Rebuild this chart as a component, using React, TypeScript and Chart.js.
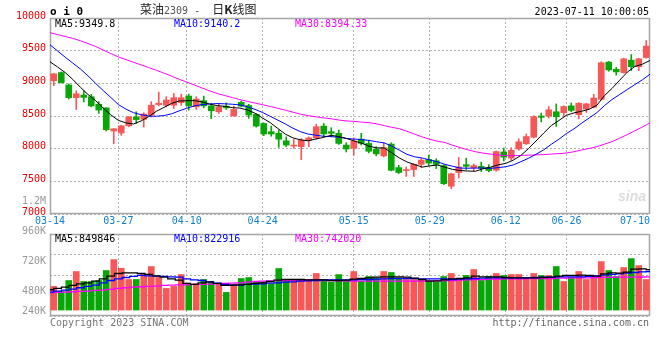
import React, { useEffect, useRef } from 'react';
import { Chart, registerables } from 'chart.js';

Chart.register(...registerables);

// ---------------- data ----------------
const dates = [
  '03-14','03-15','03-16','03-17','03-20','03-21','03-22','03-23','03-24','03-27','03-28','03-29','03-30','03-31',
  '04-03','04-04','04-06','04-07','04-10','04-11','04-12','04-13','04-14','04-17','04-18','04-19','04-20','04-21','04-24','04-25','04-26','04-27','04-28',
  '05-04','05-05','05-08','05-09','05-10','05-11','05-12','05-15','05-16','05-17','05-18','05-19','05-22','05-23','05-24','05-25','05-26','05-29','05-30','05-31',
  '06-01','06-02','06-05','06-06','06-07','06-08','06-09','06-12','06-13','06-14','06-15','06-16','06-19','06-20','06-21','06-26','06-27','06-28','06-29','06-30',
  '07-03','07-04','07-05','07-06','07-07','07-10','07-11',
];

const opens = [
  9040, 9165, 8975, 8780, 8820, 8795, 8680, 8625, 8270, 8240,
  8350, 8485, 8450, 8515, 8675, 8665, 8665, 8705, 8805, 8640,
  8735, 8655, 8565, 8650, 8500, 8710, 8660, 8525, 8385, 8260,
  8235, 8120, 8040, 8030, 8130, 8165, 8345, 8260, 8235, 8055,
  8005, 8145, 8080, 7990, 7890, 8070, 7710, 7665, 7680, 7760,
  7835, 7815, 7740, 7425, 7635, 7755, 7705, 7730, 7710, 7670,
  7950, 7855, 7995, 8075, 8175, 8500, 8500, 8565, 8550, 8655,
  8520, 8605, 8635, 8755, 9325, 9215, 9165, 9355, 9255, 9395,
];
const highs = [
  9155, 9175, 8990, 8885, 8885, 8830, 8720, 8625, 8305, 8360,
  8490, 8565, 8550, 8720, 8865, 8795, 8845, 8835, 8835, 8795,
  8805, 8690, 8690, 8700, 8650, 8730, 8680, 8535, 8395, 8345,
  8285, 8180, 8140, 8155, 8180, 8375, 8385, 8320, 8285, 8090,
  8165, 8235, 8130, 8030, 8090, 8090, 7745, 7720, 7770, 7850,
  7900, 7845, 7755, 7625, 7865, 7855, 7765, 7795, 7755, 7965,
  8010, 8015, 8150, 8225, 8505, 8545, 8645, 8685, 8655, 8700,
  8705, 8695, 8830, 9330, 9335, 9245, 9385, 9440, 9385, 9655,
];
const lows = [
  8965, 9005, 8760, 8600, 8715, 8640, 8540, 8270, 8075, 8205,
  8335, 8385, 8330, 8485, 8655, 8640, 8615, 8665, 8590, 8600,
  8625, 8460, 8540, 8600, 8500, 8640, 8465, 8330, 8200, 8190,
  8020, 8030, 8005, 7830, 8030, 8145, 8180, 8180, 8065, 7950,
  7900, 8055, 7935, 7890, 7875, 7660, 7620, 7575, 7575, 7710,
  7745, 7695, 7450, 7390, 7550, 7680, 7655, 7650, 7645, 7655,
  7810, 7825, 7975, 8065, 8165, 8410, 8470, 8340, 8500, 8565,
  8455, 8555, 8625, 8745, 9185, 9125, 9155, 9195, 9195, 9385,
];
const closes = [
  9145, 9010, 8780, 8840, 8785, 8655, 8590, 8290, 8305, 8350,
  8485, 8445, 8530, 8665, 8695, 8745, 8780, 8780, 8655, 8760,
  8655, 8580, 8640, 8625, 8600, 8650, 8515, 8345, 8225, 8225,
  8145, 8055, 8055, 8130, 8165, 8335, 8225, 8235, 8080, 7995,
  8115, 8080, 7960, 7920, 8015, 7670, 7635, 7680, 7760, 7825,
  7780, 7760, 7465, 7615, 7720, 7730, 7740, 7700, 7665, 7955,
  7870, 7975, 8105, 8185, 8490, 8480, 8595, 8490, 8645, 8585,
  8695, 8685, 8775, 9315, 9205, 9175, 9375, 9255, 9375, 9570,
];

const ma5 = [
  9330, 9250, 9165, 9060, 8940, 8830, 8735, 8622, 8518, 8433,
  8395, 8378, 8424, 8492, 8572, 8631, 8692, 8730, 8734, 8735,
  8718, 8683, 8658, 8649, 8628, 8621, 8593, 8542, 8468, 8398,
  8309, 8222, 8164, 8135, 8120, 8148, 8172, 8205, 8185, 8158,
  8120, 8085, 8038, 8012, 8011, 7937, 7857, 7797, 7757, 7718,
  7736, 7750, 7716, 7683, 7666, 7658, 7654, 7692, 7717, 7752,
  7774, 7825, 7896, 8001, 8118, 8238, 8354, 8431, 8511, 8548,
  8573, 8604, 8663, 8811, 8922, 9047, 9170, 9258, 9293, 9349.8,
];
const ma10 = [
  9590, 9495, 9400, 9310, 9220, 9115, 9000, 8890, 8785, 8675,
  8606, 8550, 8520, 8500, 8496, 8506, 8533, 8578, 8618, 8655,
  8673, 8684, 8690, 8687, 8680, 8670, 8640, 8601, 8553, 8495,
  8437, 8377, 8313, 8259, 8223, 8206, 8190, 8184, 8176, 8157,
  8147, 8140, 8126, 8106, 8088, 8040, 7977, 7913, 7876, 7857,
  7827, 7799, 7760, 7731, 7703, 7701, 7703, 7704, 7699, 7710,
  7723, 7751, 7801, 7853, 7915, 7982, 8067, 8144, 8232, 8304,
  8390, 8471, 8551, 8659, 8753, 8828, 8905, 8980, 9054, 9140.2,
];
const ma30 = [
  9775, 9746, 9717, 9688, 9652, 9610, 9564, 9510, 9456, 9404,
  9364, 9322, 9282, 9242, 9200, 9156, 9110, 9063, 9019, 8975,
  8930, 8886, 8844, 8814, 8782, 8750, 8724, 8698, 8672, 8646,
  8618, 8589, 8558, 8528, 8505, 8488, 8471, 8458, 8439, 8424,
  8418, 8407, 8398, 8381, 8353, 8327, 8306, 8266, 8223, 8180,
  8144, 8114, 8095, 8053, 8016, 7983, 7954, 7932, 7917, 7903,
  7894, 7892, 7897, 7900, 7905, 7909, 7917, 7925, 7932, 7954,
  7980, 8003, 8030, 8068, 8108, 8160, 8215, 8272, 8332, 8394.33,
];

const volumes = [
  597000, 526000, 687000, 823000, 672000, 672000, 687000, 838000, 1003000, 872000,
  702000, 702000, 777000, 898000, 737000, 567000, 597000, 777000, 627000, 637000,
  702000, 662000, 637000, 507000, 627000, 717000, 732000, 667000, 667000, 637000,
  868000, 702000, 702000, 702000, 702000, 793000, 702000, 662000, 777000, 677000,
  823000, 677000, 747000, 728000, 823000, 808000, 728000, 702000, 702000, 702000,
  687000, 668000, 747000, 793000, 702000, 763000, 853000, 687000, 747000, 793000,
  763000, 778000, 778000, 717000, 793000, 763000, 763000, 898000, 672000, 728000,
  823000, 702000, 737000, 973000, 838000, 747000, 883000, 1018000, 913000, 702000,
];
const volMa5 = [
  547000, 567000, 587000, 612000, 637000, 652000, 677000, 712000, 753000, 793000,
  803000, 803000, 793000, 778000, 758000, 737000, 712000, 692000, 642000, 627000,
  652000, 667000, 642000, 612000, 617000, 622000, 627000, 642000, 652000, 672000,
  692000, 702000, 702000, 702000, 697000, 697000, 697000, 687000, 687000, 692000,
  707000, 717000, 727000, 737000, 742000, 742000, 742000, 737000, 722000, 702000,
  677000, 682000, 697000, 712000, 717000, 727000, 753000, 742000, 742000, 742000,
  732000, 727000, 727000, 727000, 727000, 732000, 737000, 753000, 763000, 763000,
  768000, 763000, 753000, 788000, 803000, 798000, 813000, 858000, 863000, 849846,
];
const volMa10 = [
  512000, 527000, 542000, 557000, 577000, 597000, 617000, 652000, 687000, 712000,
  732000, 748000, 763000, 758000, 753000, 748000, 742000, 737000, 712000, 697000,
  687000, 667000, 647000, 627000, 617000, 617000, 627000, 632000, 637000, 647000,
  652000, 662000, 667000, 677000, 682000, 687000, 692000, 697000, 697000, 697000,
  697000, 702000, 702000, 707000, 712000, 717000, 717000, 717000, 717000, 712000,
  712000, 712000, 712000, 702000, 707000, 712000, 717000, 722000, 727000, 727000,
  727000, 727000, 727000, 727000, 732000, 737000, 737000, 742000, 742000, 742000,
  742000, 748000, 758000, 768000, 778000, 788000, 798000, 808000, 818000, 822916,
];
const volMa30 = [
  502000, 507000, 512000, 517000, 522000, 527000, 537000, 542000, 552000, 567000,
  577000, 587000, 592000, 597000, 602000, 612000, 617000, 622000, 622000, 627000,
  627000, 632000, 637000, 642000, 647000, 652000, 662000, 672000, 677000, 682000,
  687000, 687000, 692000, 692000, 697000, 692000, 687000, 687000, 682000, 682000,
  677000, 677000, 677000, 677000, 677000, 677000, 677000, 677000, 677000, 677000,
  682000, 682000, 687000, 687000, 692000, 697000, 702000, 702000, 707000, 707000,
  712000, 712000, 712000, 717000, 717000, 717000, 717000, 722000, 722000, 727000,
  727000, 727000, 732000, 734000, 736000, 737000, 738000, 739000, 740000, 742020,
];

const xTickLabels = ['03-14', '03-27', '04-10', '04-24', '05-15', '05-29', '06-12', '06-26', '07-10'];
const volTickLabels = ['1.2M', '960K', '720K', '480K', '240K'];

const PRICE_MIN = 7000;
const PRICE_MAX = 10000;
const PRICE_STEP = 500;
const VOL_MIN = 150000;
const VOL_MAX = 1390000;
const VOL_BASE = 240000;

const TITLE_NAME = '菜油';
const CONTRACT = '2309';
const TIMESTAMP = '2023-07-11 10:00:05';

// ---------------- styles ----------------
const RED = '#f75757';
const GREEN = '#07a707';
const GRID = '#b0b0b0';
const FRAME = '#a6a6a6';
const MONO = "'DejaVu Sans Mono', monospace";
const MA5_C = '#000000';
const MA10_C = '#0000ff';
const MA30_C = '#ff00ff';

const barColors = closes.map((c, i) => (c >= opens[i] ? RED : GREEN));
const gridIdx = xTickLabels.slice(1, -1).map((l) => dates.indexOf(l));

const framePlugin = {
  id: 'frame',
  beforeDatasetsDraw(chart: any) {
    const { ctx, chartArea: a } = chart;
    ctx.save();
    ctx.strokeStyle = FRAME;
    ctx.lineWidth = 1.5;
    ctx.strokeRect(a.left + 0.5, a.top + 0.5, a.right - a.left - 1, a.bottom - a.top - 1);
    ctx.restore();
  },
};

const xLabelPlugin = {
  id: 'xLabels',
  afterDraw(chart: any) {
    const s = chart.scales.xg;
    const { ctx, chartArea: a } = chart;
    ctx.save();
    ctx.font = `10px ${MONO}`;
    ctx.fillStyle = '#1480d2';
    ctx.textBaseline = 'middle';
    ctx.textAlign = 'left';
    xTickLabels.forEach((lbl) => {
      const x = s.getPixelForValue(dates.indexOf(lbl));
      const w = ctx.measureText(lbl).width;
      let left = x - w / 2;
      if (left + w > a.right) left = a.right - w;
      ctx.fillText(lbl, left, a.bottom + 7.5);
    });
    ctx.restore();
  },
};

const xgScale = (h: number) => ({
  type: 'linear',
  position: 'bottom',
  min: 0,
  max: dates.length - 1,
  offset: false,
  afterBuildTicks: (s: any) => {
    s.ticks = gridIdx.map((v) => ({ value: v }));
  },
  afterFit: (s: any) => {
    s.height = h;
  },
  ticks: { display: false },
  grid: { color: GRID, lineWidth: 1, drawTicks: false, offset: false },
  border: { display: false, dash: [2, 2] },
});

const lineDs = (vals: number[], color: string, width: number, stepped: any = false) => ({
  type: 'line',
  data: vals.map((v, i) => ({ x: i, y: v })),
  xAxisID: 'xg',
  yAxisID: 'y',
  borderColor: color,
  borderWidth: width,
  pointRadius: 0,
  tension: 0,
  fill: false,
  stepped,
});

const txt = (extra: any): any => ({
  position: 'absolute',
  whiteSpace: 'nowrap',
  fontFamily: MONO,
  fontSize: 10,
  lineHeight: '12px',
  ...extra,
});

export default function App() {
  const priceRef = useRef<HTMLCanvasElement>(null);
  const volRef = useRef<HTMLCanvasElement>(null);

  useEffect(() => {
    const priceChart = new Chart(priceRef.current as HTMLCanvasElement, {
      type: 'bar',
      data: {
        labels: dates,
        datasets: [
          lineDs(ma5, MA5_C, 1),
          lineDs(ma10, MA10_C, 1),
          lineDs(ma30, MA30_C, 1),
          {
            type: 'bar',
            data: opens.map((o, i) => [o, closes[i]]),
            xAxisID: 'x',
            yAxisID: 'y',
            backgroundColor: barColors,
            borderWidth: 0,
            barThickness: 6,
            grouped: false,
          },
          {
            type: 'bar',
            data: lows.map((l, i) => [l, highs[i]]),
            xAxisID: 'x',
            yAxisID: 'y',
            backgroundColor: barColors,
            borderWidth: 0,
            barThickness: 1,
            grouped: false,
          },
        ] as any,
      },
      options: {
        responsive: false,
        animation: false,
        events: [],
        layout: { padding: { top: 18, right: 10, left: 0, bottom: 0 } },
        plugins: { legend: { display: false }, tooltip: { enabled: false } },
        scales: {
          x: { type: 'category', display: false, offset: true },
          xg: xgScale(18),
          y: {
            min: PRICE_MIN,
            max: PRICE_MAX,
            afterFit: (s: any) => {
              s.width = 50;
            },
            ticks: {
              stepSize: PRICE_STEP,
              color: '#e80000',
              font: { family: MONO, size: 10 },
              padding: 4,
              labelOffset: -2,
              callback: (v: any) => String(v),
            },
            grid: { color: GRID, drawTicks: false },
            border: { display: false, dash: [2, 2] },
          },
        } as any,
      },
      plugins: [framePlugin, xLabelPlugin],
    });

    const volChart = new Chart(volRef.current as HTMLCanvasElement, {
      type: 'bar',
      data: {
        labels: dates,
        datasets: [
          lineDs(volMa5, MA5_C, 1.3, 'middle'),
          lineDs(volMa10, MA10_C, 1.3, 'middle'),
          lineDs(volMa30, MA30_C, 1.3, 'middle'),
          {
            type: 'bar',
            data: volumes.map((v) => [VOL_BASE, v]),
            xAxisID: 'x',
            yAxisID: 'y',
            backgroundColor: barColors,
            borderWidth: 0,
            barThickness: 6,
            grouped: false,
          },
        ] as any,
      },
      options: {
        responsive: false,
        animation: false,
        events: [],
        layout: { padding: { top: 10, right: 10, left: 0, bottom: 0 } },
        plugins: { legend: { display: false }, tooltip: { enabled: false } },
        scales: {
          x: { type: 'category', display: false, offset: true },
          xg: xgScale(8),
          y: {
            min: VOL_MIN,
            max: VOL_MAX,
            afterFit: (s: any) => {
              s.width = 50;
            },
            ticks: { display: false, count: 5 },
            grid: { color: GRID, drawTicks: false },
            border: { display: false, dash: [2, 2] },
          },
        } as any,
      },
      plugins: [framePlugin],
    });

    return () => {
      priceChart.destroy();
      volChart.destroy();
    };
  }, []);

  const last = dates.length - 1;
  const volLabelY = [195, 225, 255, 285, 305];

  return (
    <div style={{ position: 'absolute', left: 0, top: 0, width: 660, height: 360, background: '#fff', overflow: 'hidden' }}>
      <canvas ref={priceRef} width={660} height={232} style={{ position: 'absolute', left: 0, top: 0 }} />
      <canvas ref={volRef} width={660} height={100} style={{ position: 'absolute', left: 0, top: 224 }} />

      <div style={txt({ left: 50, top: 6, fontSize: 11, fontWeight: 'bold', color: '#000' })}>o i 0</div>
      <div
        style={{
          position: 'absolute',
          left: 140,
          top: 2,
          whiteSpace: 'nowrap',
          fontFamily: "'Noto Sans CJK SC', sans-serif",
          fontSize: 12,
          lineHeight: '14px',
          color: '#222',
        }}
      >
        {TITLE_NAME}
        <span style={{ fontFamily: MONO, fontSize: 10, color: '#555' }}>{CONTRACT} -&nbsp;&nbsp;</span>
        日<b>K</b>线图
      </div>
      <div style={txt({ right: 11, top: 6, color: '#000' })}>{TIMESTAMP}</div>

      <div style={txt({ left: 55, top: 18, color: MA5_C })}>MA5:{ma5[last]}</div>
      <div style={txt({ left: 174, top: 18, color: MA10_C })}>MA10:{ma10[last]}</div>
      <div style={txt({ left: 295, top: 18, color: MA30_C })}>MA30:{ma30[last]}</div>

      <div style={txt({ left: 618, top: 190, fontFamily: 'Arial, sans-serif', fontSize: 14, fontStyle: 'italic', fontWeight: 'bold', color: '#dcdcdc' })}>
        sina
      </div>

      {volTickLabels.map((l, i) => (
        <div key={l} style={txt({ right: 614, top: volLabelY[i], color: '#999', textAlign: 'right' })}>
          {l}
        </div>
      ))}

      <div style={txt({ left: 55, top: 233, color: MA5_C })}>MA5:{volMa5[last]}</div>
      <div style={txt({ left: 174, top: 233, color: MA10_C })}>MA10:{volMa10[last]}</div>
      <div style={txt({ left: 295, top: 233, color: MA30_C })}>MA30:{volMa30[last]}</div>

      <div style={txt({ left: 50, top: 317, color: '#777' })}>Copyright 2023 SINA.COM</div>
      <div style={txt({ right: 11, top: 317, color: '#666' })}>http://finance.sina.com.cn</div>
    </div>
  );
}
